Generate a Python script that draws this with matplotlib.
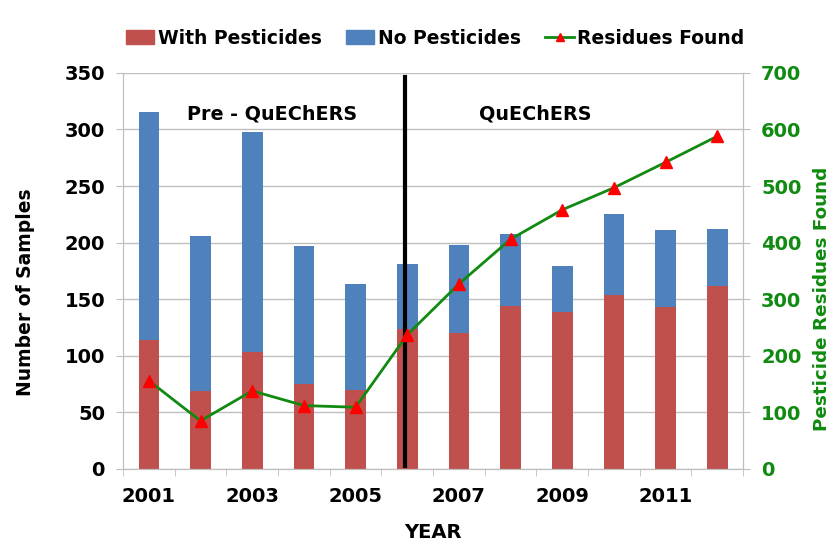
import numpy as np
import matplotlib.pyplot as plt
from matplotlib.patches import Patch
from matplotlib.lines import Line2D

years = ['2001', '2002', '2003', '2004', '2005', '2006',
         '2007', '2008', '2009', '2010', '2011', '2012']
total_samples = [315, 206, 298, 197, 163, 181, 198, 208, 179, 225, 211, 212]
with_pesticides = [114, 69, 103, 75, 70, 124, 120, 144, 139, 154, 143, 162]
residues_found = [156, 85, 138, 112, 109, 237, 327, 406, 458, 497, 542, 588]

no_pesticides = [t - w for t, w in zip(total_samples, with_pesticides)]

red = '#C0504D'
blue = '#4F81BD'
green = '#108A10'
grid_grey = '#BFBFBF'

plt.rcParams['font.family'] = 'DejaVu Sans'
plt.rcParams['font.weight'] = 'bold'

fig = plt.figure(figsize=(8.34, 5.44), dpi=100)
ax1 = fig.add_axes([0.1475, 0.138, 0.7435, 0.728])
ax2 = ax1.twinx()

x = np.arange(len(years))
ax1.bar(x, with_pesticides, width=0.4, color=red, zorder=2)
ax1.bar(x, no_pesticides, width=0.4, bottom=with_pesticides, color=blue, zorder=2)

ax1.set_xlim(-0.5, len(years) - 0.5)
ax1.set_ylim(0, 350)
ax1.set_yticks(range(0, 351, 50))
ax1.yaxis.grid(True, color=grid_grey, lw=1)
ax1.set_axisbelow(True)

# labels on every other year, tick marks between the categories
ax1.set_xticks(x[::2])
ax1.set_xticklabels(years[::2])
ax1.set_xticks(np.arange(-0.5, len(years), 1), minor=True)
ax1.tick_params(axis='x', which='major', length=0, pad=13, labelsize=14)
ax1.tick_params(axis='x', which='minor', length=5, color=grid_grey, direction='out')
ax1.tick_params(axis='y', length=5, color=grid_grey, direction='out', pad=8, labelsize=14)

for ax in (ax1, ax2):
    ax.spines['top'].set_visible(False)
    for side in ('left', 'right', 'bottom'):
        ax.spines[side].set_color(grid_grey)

# divider between the two methods
ax1.axvline(4.95, ymin=0.007, ymax=0.99, color='black', lw=3, zorder=3)
ax1.text(2.38, 314, 'Pre - QuEChERS', ha='center', va='center', fontsize=13.8, fontweight='bold')
ax1.text(7.47, 314, 'QuEChERS', ha='center', va='center', fontsize=13.8, fontweight='bold')

ax2.plot(x, residues_found, color=green, lw=2, marker='^', markersize=8,
         markerfacecolor='red', markeredgecolor='red', zorder=4)
ax2.set_ylim(0, 700)
ax2.set_yticks(range(0, 701, 100))
ax2.tick_params(axis='y', length=5, color=grid_grey, direction='out', pad=8,
                labelsize=14, labelcolor=green)

ax1.set_ylabel('Number of Samples', fontsize=13.5, fontweight='bold')
ax1.yaxis.set_label_coords(-0.142, 0.447)
ax2.set_ylabel('Pesticide Residues Found', fontsize=13.2, fontweight='bold', color=green)
ax2.yaxis.set_label_coords(1.113, 0.43)
ax1.set_xlabel('YEAR', fontsize=14, fontweight='bold', labelpad=12)

handles = [Patch(color=red, label='With Pesticides'),
           Patch(color=blue, label='No Pesticides'),
           Line2D([], [], color=green, lw=2, marker='^', markersize=6,
                  markerfacecolor='red', markeredgecolor='red', label='Residues Found')]
fig.legend(handles=handles, loc='center', bbox_to_anchor=(0.522, 0.93), ncol=3,
           frameon=False, fontsize=13.5, handlelength=1.5, handleheight=0.8,
           handletextpad=0.2, columnspacing=1.3)

fig.savefig('out.png', dpi=100)
